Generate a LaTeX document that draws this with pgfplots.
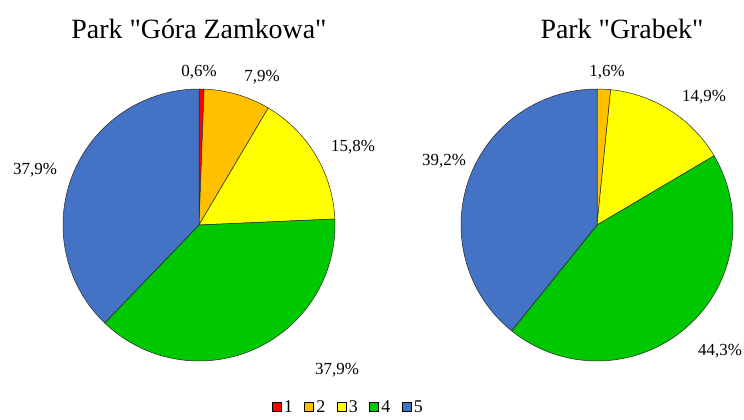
\documentclass[border=0pt]{standalone}
\usepackage{fontspec}
\setmainfont{Liberation Serif}[Ligatures=TeXOff]
\usepackage{pgfplots}
\pgfplotsset{compat=1.18}
\usepgfplotslibrary{polar}
\definecolor{c1}{RGB}{255,0,0}
\definecolor{c2}{RGB}{255,192,0}
\definecolor{c3}{RGB}{255,255,0}
\definecolor{c4}{RGB}{0,200,0}
\definecolor{c5}{RGB}{68,114,196}
\newcommand\pieslice[2]{%
  \pgfmathsetmacro\sA{90-3.6*\cum}%
  \pgfmathsetmacro\newcum{\cum+#2}%
  \xdef\cum{\newcum}%
  \pgfmathsetmacro\sB{90-3.6*\cum}%
  \edef\temp{\noexpand\addplot[fill=#1, draw=black!85, line width=0.5bp, domain=\sB:\sA, samples=80] {1} -- (axis cs:0,0) -- cycle;}%
  \temp}
\begin{document}
\begin{tikzpicture}[x=1bp,y=1bp]
\path[use as bounding box] (0,0) rectangle (744,419);
\xdef\cum{0}
\begin{polaraxis}[hide axis, scale only axis, width=272bp, height=272bp, ymin=0, ymax=1,
  at={(199bp,194bp)}, anchor=center, clip=false,
  legend columns=5,
  legend style={draw=none, fill=none, at={(axis description cs:1.05,-0.17)}, anchor=center,
    inner sep=0pt, outer sep=0pt,
    nodes={inner sep=2.5bp},
    font=\fontsize{18}{18}\selectfont, /tikz/every even column/.append style={column sep=9bp}},
  legend image code/.code={\draw[#1,draw=black,line width=0.5bp] (0bp,-4.5bp) rectangle (9bp,4.5bp);}]
\pieslice{c1}{0.6}\addlegendentry{1}
\pieslice{c2}{7.9}\addlegendentry{2}
\pieslice{c3}{15.8}\addlegendentry{3}
\pieslice{c4}{37.9}\addlegendentry{4}
\pieslice{c5}{37.8}\addlegendentry{5}
\end{polaraxis}
\xdef\cum{0}
\begin{polaraxis}[hide axis, scale only axis, width=272bp, height=272bp, ymin=0, ymax=1,
  at={(597bp,194bp)}, anchor=center, clip=false]
\pieslice{c2}{1.6}
\pieslice{c3}{14.9}
\pieslice{c4}{44.3}
\pieslice{c5}{39.2}
\end{polaraxis}
\begin{scope}[every node/.style={font=\fontsize{28}{30}\selectfont, anchor=base}]
\node at (199,381) {Park "Góra Zamkowa"};
\node at (622,381) {Park "Grabek"};
\end{scope}
\begin{scope}[every node/.style={font=\fontsize{17}{19}\selectfont, anchor=center, inner sep=0pt}]
\node at (199,347) {0,6\%};
\node at (262,342) {7,9\%};
\node at (353,272) {15,8\%};
\node at (337,49) {37,9\%};
\node at (35,249) {37,9\%};
\node at (607,347) {1,6\%};
\node at (704,322) {14,9\%};
\node at (720,68) {44,3\%};
\node at (444,258) {39,2\%};
\end{scope}
\end{tikzpicture}
\end{document}
